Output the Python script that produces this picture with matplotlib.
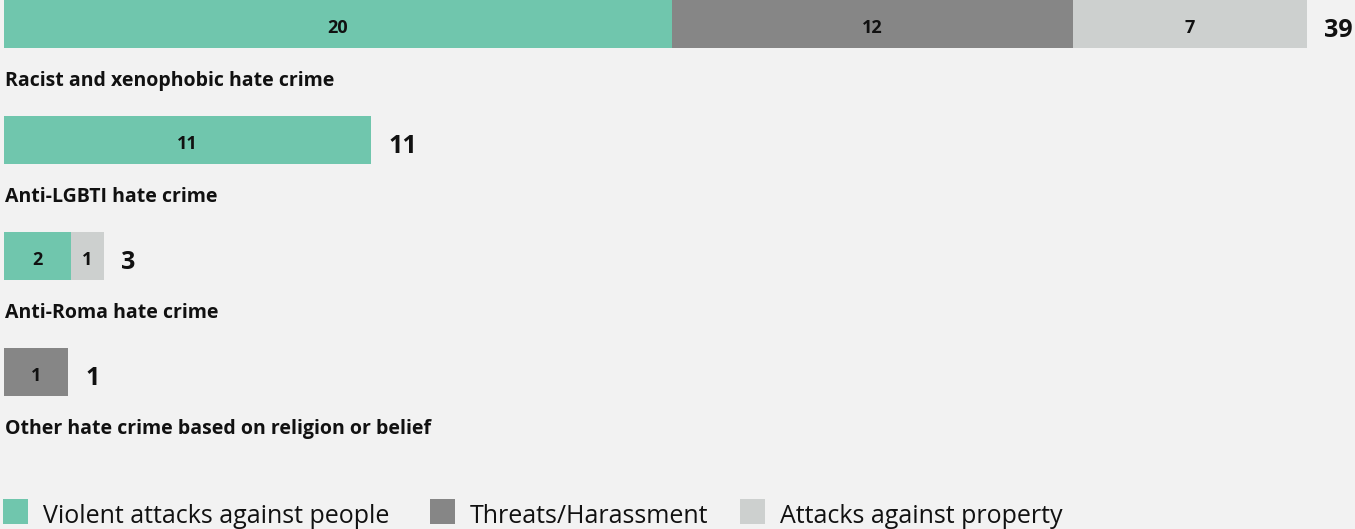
import matplotlib
matplotlib.use("Agg")
import matplotlib.pyplot as plt
from matplotlib.patches import Rectangle
import numpy as np

categories = ["Racist and xenophobic hate crime", "Anti-LGBTI hate crime",
              "Anti-Roma hate crime", "Other hate crime based on religion or belief"]
series = ["Violent attacks against people", "Threats/Harassment", "Attacks against property"]
violent = [20, 11, 2, 0]
threats = [12, 0, 0, 1]
property_ = [7, 0, 1, 0]
colors = ["#70c6ad", "#868686", "#cdd0cf"]

BG = "#f2f2f2"
TXT = "#111111"
FONT = ["Open Sans", "Lato", "DejaVu Sans"]

W, H = 1355, 529
fig = plt.figure(figsize=(W / 100, H / 100), dpi=100, facecolor=BG)

# bars: axes over the whole figure, 1 unit ~ 33.4 px, bars start 4 px in
ax = fig.add_axes([0, 0, 1, 1])
ax.set_facecolor(BG)
px = 33.4
ax.set_xlim(-4 / px, (W - 4) / px)
ax.set_ylim((H - 24) / 116, -24 / 116)
ax.axis("off")

y = np.arange(len(categories))
h = 48 / 116
min_w = 64 / px  # single small bars are drawn at least this wide

data = [np.array(v, dtype=float) for v in (violent, threats, property_)]
totals = sum(data)
nseg = sum((d > 0).astype(int) for d in data)
scale = np.where((nseg == 1) & (totals * px < 64), min_w / np.maximum(totals, 1e-9), 1.0)

left = np.zeros(len(categories))
for vals, col in zip(data, colors):
    w = vals * scale
    ax.barh(y, w, left=left, height=h, color=col, linewidth=0)
    for yi, l, wi, v in zip(y, left, w, vals):
        if v > 0:
            ax.text(l + wi / 2, yi + 0.078, f"{int(v)}", ha="center", va="baseline",
                    fontsize=13, fontweight="bold", family=FONT, color=TXT)
    left += w

for yi, end, t, name in zip(y, left, totals, categories):
    ax.text(end + 17 / px, yi + 0.112, f"{int(t)}", ha="left", va="baseline",
            fontsize=18, fontweight="bold", family=FONT, color=TXT)
    ax.text(1 / px, yi + 0.534, name, ha="left", va="baseline",
            fontsize=14, fontweight="bold", family=FONT, color=TXT)

# legend in pixel coordinates
lg = fig.add_axes([0, 0, 1, 1], facecolor="none")
lg.set_xlim(0, W)
lg.set_ylim(H, 0)
lg.axis("off")
for x0, col, lab in zip([3, 430, 740], colors, series):
    lg.add_patch(Rectangle((x0, 499), 25, 25, facecolor=col, edgecolor="none"))
    lg.text(x0 + 40, 523, lab, ha="left", va="baseline", fontsize=18,
            family=FONT, color=TXT)

fig.savefig("out.png", dpi=100, facecolor=BG)
